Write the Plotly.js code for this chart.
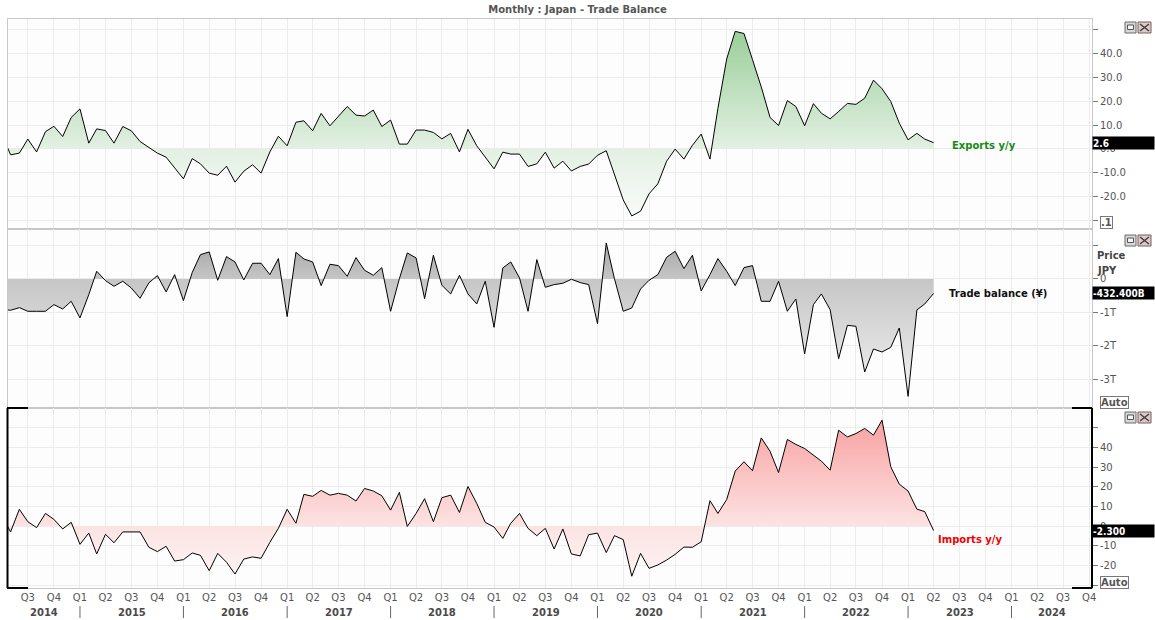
<!DOCTYPE html>
<html>
<head>
<meta charset="utf-8">
<script src="https://cdn.plot.ly/plotly-3.0.1.min.js"></script>
<style>
  html, body { margin: 0; padding: 0; background: #fff; }
  #chart { width: 1155px; height: 620px; }
</style>
</head>
<body>
<div id="chart"></div>
<script>
// monthly data, Apr 2014 .. Apr 2023
const firstMonth = [2014, 4];

const exportsYoY = [
  6.0, -2.5, -1.8, 4.1, -1.3, 7.2, 9.5, 5.2, 13.2,
  16.8, 2.4, 8.4, 7.7, 2.4, 9.4, 7.6, 3.1, 0.7, -1.8, -3.5, -8.1,
  -12.6, -4.1, -6.3, -10.2, -11.1, -7.3, -14.0, -9.4, -6.7, -10.2, -1.3, 5.3,
  1.3, 11.2, 11.8, 7.6, 14.9, 9.7, 13.6, 17.8, 14.2, 13.8, 16.3, 9.4,
  12.1, 2.0, 2.0, 7.9, 7.9, 6.9, 4.2, 6.5, -1.3, 8.2, 1.3, -3.5,
  -8.4, -1.4, -2.2, -2.2, -7.4, -6.3, -1.4, -8.1, -5.2, -9.3, -7.4, -6.4,
  -2.7, -0.8, -11.0, -21.5, -28.2, -26.2, -18.9, -14.7, -5.2, -0.1, -4.3, 1.5,
  6.2, -4.3, 17.0, 37.8, 49.4, 48.5, 37.5, 26.0, 13.2, 9.8, 20.3, 17.8,
  9.7, 19.0, 15.0, 12.6, 15.7, 19.1, 18.7, 21.3, 28.9, 25.3, 19.9, 10.8,
  3.8, 6.5, 4.1, 2.6
];

// billions of yen
const tradeBalance = [
  -900, -935, -856, -965, -965, -965, -766, -896, -667,
  -1164, -468, 229, -50, -219, -70, -269, -577, -119, 100, -388, 129,
  -647, 190, 726, 806, -40, 667, 507, -30, 468, 468, 129, 607,
  -1124, 796, 597, 507, -199, 438, 398, 80, 637, 259, 109, 338,
  -965, 5, 776, 627, -587, 706, -189, -448, 109, -448, -746, -70,
  -1443, 328, 507, 30, -965, 577, -249, -169, -129, -10, -109, -169,
  -1333, 1075, 5, -965, -866, -299, -40, 129, 647, 826, 308, 706,
  -358, 129, 607, 229, -199, 338, 398, -667, -667, -70, -965, -597,
  -2239, -766, -448, -915, -2378, -1383, -1413, -2776, -2090, -2179, -2040, -1463,
  -3502, -925, -746, -432.4
];

const importsYoY = [
  5.0, -3.0, 8.5, 2.2, -0.8, 6.4, 3.4, -1.5, 1.9,
  -9.3, -3.6, -14.2, -4.2, -8.5, -3.0, -3.0, -3.0, -10.8, -13.0, -10.3, -17.8,
  -17.1, -13.7, -14.9, -22.7, -13.9, -18.4, -24.4, -16.8, -15.7, -16.4, -8.3, -1.2,
  8.5, 1.4, 16.1, 15.1, 18.1, 15.7, 16.6, 15.7, 12.7, 19.1, 17.8, 15.4,
  8.1, 17.1, -0.2, 6.4, 13.9, 2.2, 14.4, 15.7, 6.9, 20.1, 11.5, 1.9,
  -0.5, -6.3, 1.4, 6.4, -1.2, -4.9, -1.2, -11.7, -1.5, -14.2, -15.2, -4.4,
  -3.6, -13.5, -4.9, -6.9, -25.5, -13.9, -21.5, -19.8, -17.3, -14.4, -10.7, -10.8,
  -8.0, 12.9, 6.4, 13.5, 27.9, 32.7, 28.1, 44.8, 38.0, 27.2, 44.0, 41.5,
  39.4, 36.0, 33.0, 28.4, 48.7, 45.3, 47.0, 49.6, 46.2, 53.8, 30.1, 21.3,
  17.8, 8.6, 7.3, -2.3
];

const years = [2014, 2015, 2016, 2017, 2018, 2019, 2020, 2021, 2022, 2023, 2024];
const quarterNames = ['Q1', 'Q2', 'Q3', 'Q4'];
const firstQuarter = [2014, 3];
const lastQuarter = [2024, 4];

const exportsTicks = [-30, -20, -10, 0, 10, 20, 30, 40, 50];
const exportsTickText = ['', '-20.0', '-10.0', '0.0', '10.0', '20.0', '30.0', '40.0', ''];
const balanceTicks = [-3000, -2000, -1000, 0, 1000];
const balanceTickText = ['-3T', '-2T', '-1T', '0', ''];
const importsTicks = [-30, -20, -10, 0, 10, 20, 30, 40, 50];
const importsTickText = ['', '-20', '-10', '0', '10', '20', '30', '40', ''];

const lastTags = ['2.6', '-432.400B', '-2.300'];

// ---- helpers ----
const pad = n => (n < 10 ? '0' + n : '' + n);
const months = exportsYoY.map((_, i) => {
  const m = firstMonth[1] - 1 + i;
  return (firstMonth[0] + Math.floor(m / 12)) + '-' + pad(m % 12 + 1) + '-01';
});

const tickvals = [], ticktext = [];
for (let y = firstQuarter[0], q = firstQuarter[1]; y < lastQuarter[0] || (y === lastQuarter[0] && q <= lastQuarter[1]); ) {
  tickvals.push(y + '-' + pad((q - 1) * 3 + 1) + '-01');
  ticktext.push(quarterNames[q - 1]);
  q++;
  if (q > 4) { q = 1; y++; }
}

// pixel -> paper helpers for chrome decorations
const L = 8, R = 1092, T = 19, B = 588;
const px = p => (p - L) / (R - L);
const py = p => (B - p) / (B - T);

const font = 'DejaVu Sans, Verdana, sans-serif';
const condensed = 'DejaVu Sans Condensed, DejaVu Sans, sans-serif';
const xRange = ['2014-04-22', '2024-10-11'];
const ranges = { y: [-33.7, 54.6], y2: [-3850, 1490], y3: [-31.5, 60] };

const mkTrace = (y, yaxis, colors, rng) => ({
  x: months, y: y, yaxis: yaxis,
  type: 'scatter', mode: 'lines',
  line: { color: '#000', width: 1 },
  fill: 'tozeroy',
  fillgradient: { type: 'vertical', start: rng[0], stop: rng[1], colorscale: colors },
  hoverinfo: 'x+y', showlegend: false,
});

const traces = [
  mkTrace(exportsYoY, 'y', [[0, '#fcfdfc'], [0.38, '#e3f0e3'], [1, '#92cb92']], ranges.y),
  mkTrace(tradeBalance, 'y2', [[0, '#f6f6f6'], [0.72, '#c6c6c6'], [1, '#9a9a9a']], ranges.y2),
  mkTrace(importsYoY, 'y3', [[0, '#fdf7f7'], [0.344, '#fce3e3'], [1, '#f99a9a']], ranges.y3),
];

const yAxisBase = {
  side: 'right', anchor: 'x', showline: true, mirror: true, linecolor: '#c8c8c8',
  gridcolor: '#ececec', zeroline: false, ticks: 'outside', ticklen: 5, tickcolor: '#777',
  tickfont: { family: font, size: 10, color: '#555' }, tickmode: 'array', fixedrange: true,
};

const n = exportsYoY.length - 1;
const annotations = [
  { x: months[n], y: exportsYoY[n], yref: 'y', text: '<b>Exports y/y</b>', xanchor: 'left', xshift: 16, yshift: -3,
    showarrow: false, font: { family: font, size: 10, color: '#138a13' } },
  { x: months[n], y: tradeBalance[n], yref: 'y2', text: '<b>Trade balance (¥)</b>', xanchor: 'left', xshift: 13, yshift: 0,
    showarrow: false, font: { family: font, size: 10, color: '#111' } },
  { x: months[n], y: importsYoY[n], yref: 'y3', text: '<b>Imports y/y</b>', xanchor: 'left', xshift: 2, yshift: -9,
    showarrow: false, font: { family: font, size: 10, color: '#f00000' } },
];

// last-value tags on the price axis
[[exportsYoY[n], 'y'], [tradeBalance[n], 'y2'], [importsYoY[n], 'y3']].forEach((p, i) => {
  annotations.push({
    xref: 'paper', x: 1, xanchor: 'left', xshift: 0, y: p[0], yref: p[1], yanchor: 'middle',
    text: '<b>' + lastTags[i] + '</b>', showarrow: false, align: 'left',
    width: 61, height: 12, bgcolor: '#000', borderpad: 0,
    font: { family: condensed, size: 10, color: '#fff' },
  });
});

// year labels centred in each (visible) year span
const t0 = Date.parse(xRange[0]), t1 = Date.parse(xRange[1]);
years.forEach(y => {
  const a = Math.max(Date.parse(y + '-01-01'), t0);
  const b = Math.min(Date.parse((y + 1) + '-01-01'), t1);
  annotations.push({
    x: new Date((a + b) / 2).toISOString().slice(0, 10), xref: 'x', y: py(612), yref: 'paper',
    text: '<b>' + y + '</b>', showarrow: false, yanchor: 'middle',
    font: { family: font, size: 10, color: '#4a4a4a' },
  });
});

// axis header + buttons
const chromeText = (x, y, text, boxed) => ({
  xref: 'paper', yref: 'paper', x: px(x), y: py(y), xanchor: 'left', yanchor: 'middle',
  text: '<b>' + text + '</b>', showarrow: false,
  font: { family: font, size: 10, color: boxed ? '#555' : '#444' },
  bordercolor: boxed ? '#777' : 'rgba(0,0,0,0)', borderwidth: boxed ? 1 : 0, borderpad: 0,
  bgcolor: boxed ? '#fff' : 'rgba(0,0,0,0)',
});
annotations.push(chromeText(1097, 255, 'Price', false));
annotations.push(chromeText(1097, 270, 'JPY', false));
annotations.push(chromeText(1100, 402, 'Auto', true));
annotations.push(chromeText(1100, 582, 'Auto', true));
annotations.push(chromeText(1100, 223, '.1', true));

const shapes = [];
const line = (x0, y0, x1, y1, color, w) => shapes.push({
  type: 'line', xref: 'paper', yref: 'paper', x0: px(x0), y0: py(y0), x1: px(x1), y1: py(y1),
  line: { color: color, width: w },
});
const rect = (x0, y0, x1, y1, fill, color) => shapes.push({
  type: 'rect', xref: 'paper', yref: 'paper', x0: px(x0), y0: py(y0), x1: px(x1), y1: py(y1),
  fillcolor: fill, line: { color: color, width: 1 },
});

// window buttons (minimise / close) per panel
[22, 235, 412].forEach(top => {
  rect(1125, top, 1136, top + 11, '#d8d8d8', '#6a6a6a');
  rect(1127.5, top + 3, 1133.5, top + 7.5, '#f4f4f4', '#555');
  rect(1138, top, 1151, top + 11, '#d8cccc', '#7a5a5a');
  line(1140, top + 2, 1149, top + 9, '#4a3a3a', 1.5);
  line(1140, top + 9, 1149, top + 2, '#4a3a3a', 1.5);
});

// active panel bracket (bottom panel)
line(7.5, 408, 7.5, 588, '#000', 2);
line(7, 408, 28, 408, '#000', 2);
line(7, 588, 28, 588, '#000', 2);
line(1092, 408, 1092, 588, '#000', 2);
line(1072, 408, 1092, 408, '#000', 2);
line(1072, 588, 1092, 588, '#000', 2);

// year separators under the quarter labels
years.slice(1).forEach(y => shapes.push({
  type: 'line', xref: 'x', yref: 'paper', x0: y + '-01-01', x1: y + '-01-01', y0: py(606), y1: py(618),
  line: { color: '#666', width: 1 },
}));

const layout = {
  width: 1155, height: 620,
  margin: { l: L, r: 1155 - R, t: T, b: 620 - B, pad: 0 },
  paper_bgcolor: '#fff', plot_bgcolor: '#fdfdfd',
  title: { text: '<b>Monthly : Japan - Trade Balance</b>', x: 0.5, xanchor: 'center', y: 1 - 9 / 620, yanchor: 'middle',
           font: { family: font, size: 10, color: '#555' } },
  showlegend: false,
  xaxis: {
    type: 'date', range: xRange, anchor: 'y3', tickmode: 'array', tickvals: tickvals, ticktext: ticktext,
    showgrid: true, gridcolor: '#ececec', showline: true, mirror: 'all', linecolor: '#c8c8c8',
    ticks: '', tickfont: { family: font, size: 10, color: '#555' }, fixedrange: true,
  },
  yaxis: Object.assign({}, yAxisBase, { domain: [py(229), 1], range: ranges.y, tickvals: exportsTicks, ticktext: exportsTickText }),
  yaxis2: Object.assign({}, yAxisBase, { domain: [py(408), py(229)], range: ranges.y2, tickvals: balanceTicks, ticktext: balanceTickText }),
  yaxis3: Object.assign({}, yAxisBase, { domain: [0, py(408)], range: ranges.y3, tickvals: importsTicks, ticktext: importsTickText }),
  annotations: annotations,
  shapes: shapes,
};

Plotly.newPlot('chart', traces, layout, { displayModeBar: false, staticPlot: true });
</script>
</body>
</html>
